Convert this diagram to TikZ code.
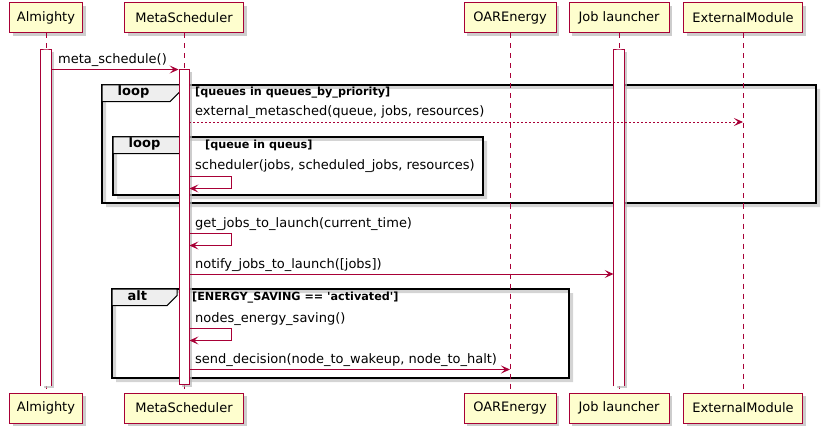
\documentclass[tikz,border=0pt]{standalone}
\usepackage{fontspec}
\setmainfont{DejaVu Sans}
\usepackage{tikz}
\usetikzlibrary{arrows.meta,positioning,shadows}
\definecolor{umlRed}{HTML}{A80036}
\definecolor{umlFill}{HTML}{FEFECE}
\definecolor{tabGray}{HTML}{EEEEEE}
\colorlet{shadeGray}{black!28}
\tikzset{
  part/.style={draw=umlRed, fill=umlFill, line width=1pt, minimum height=30pt, inner sep=0pt,
    font=\fontsize{13}{15}\selectfont,
    drop shadow={shadow xshift=3pt, shadow yshift=-3pt, fill=shadeGray, opacity=0.7}},
  life/.style={umlRed, line width=0.9pt, dash pattern=on 5pt off 5pt},
  actbar/.style={draw=umlRed, fill=white, line width=0.9pt, minimum width=10pt, inner sep=0pt, anchor=north,
    drop shadow={shadow xshift=2.5pt, shadow yshift=-2.5pt, fill=shadeGray, opacity=0.7}},
  openbar/.style={actbar, draw=none},
  msg/.style={umlRed, line width=0.9pt, -{Stealth[length=9pt, width=8pt, inset=4pt]}},
  asyncmsg/.style={msg, dash pattern=on 2pt off 2pt},
  lbl/.style={anchor=base west, inner sep=0pt, font=\fontsize{13}{15}\selectfont},
  cond/.style={anchor=base west, inner sep=0pt, font=\bfseries\fontsize{11.2}{13}\selectfont},
  frm/.style={draw=black, line width=1.5pt},
  tabbox/.style={fill=tabGray, draw=black, line width=1pt},
}

\begin{document}
\begin{tikzpicture}[x=1pt, y=-1pt]
  \useasboundingbox (0,0) rectangle (833,441);

  % combined fragments: loop / loop / alt
  \foreach \xa/\ya/\xb/\yb/\tx/\k in {102/85/816/203/180/loop, 113/137/483/195/189/loop, 112/289/569/378/177/alt}{
    \fill[black!17, even odd rule] (\xa+4,\ya+4) rectangle (\xb+4,\yb+4) (\xa,\ya) rectangle (\xb,\yb);
    \draw[frm] (\xa,\ya) rectangle (\xb,\yb);
    \filldraw[tabbox] (\xa,\ya) -- (\tx,\ya) -- (\tx,\ya+6.7) -- (\tx-10,\ya+16.7) -- (\xa,\ya+16.7) -- cycle;
    \node[anchor=base west, inner sep=0pt, font=\bfseries\fontsize{13}{15}\selectfont] at (\xa+15.5,\ya+11) {\k};
  }
  \node[cond] (c1) at (195,96) {[queues in queues\_by\_priority]};
  \node[cond] (c2) at (205,149) {[queue in queus]};
  \node[cond] (c3) at (192,300) {[ENERGY\_SAVING == \textquotesingle activated\textquotesingle]};

  % participants and lifelines
  \foreach \n/\x/\w/\t in {alm/46/73/Almighty, meta/184/119/MetaScheduler, oar/510/92/OAREnergy, job/619/100/Job launcher, ext/743/119/ExternalModule}{
    \node[part, minimum width=\w pt] (\n-t) at (\x,18) {\t};
    \node[part, minimum width=\w pt] (\n-b) at (\x,408) {\t};
    \draw[life] (\n-t) -- (\n-b);
  }

  % activations
  \node[openbar, minimum height=336.5pt] (alm-a) at (46,49) {};
  \draw[umlRed, line width=0.9pt] (alm-a.south west) |- (alm-a.north) -| (alm-a.south east);
  \node[openbar, minimum height=336.5pt] (job-a) at (619,49) {};
  \draw[umlRed, line width=0.9pt] (job-a.south west) |- (job-a.north) -| (job-a.south east);
  \node[actbar, minimum height=314.5pt] (meta-a) at (184,69.5) {};

  % messages
  \draw[msg] (alm-a.east |- 0,69.5) -- (meta-a.west |- 0,69.5);
  \node[lbl] (m1) at (58,63.5) {meta\_schedule()};
  \draw[asyncmsg] (meta-a.east |- 0,122) -- (ext-t.south |- 0,122);
  \node[lbl] (m2) at (195,116) {external\_metasched(queue, jobs, resources)};
  \draw[msg] (meta-a.east |- 0,176) -- ++(42,0) |- (meta-a.east |- 0,188.5);
  \node[lbl] (m3) at (195,170) {scheduler(jobs, scheduled\_jobs, resources)};
  \draw[msg] (meta-a.east |- 0,233) -- ++(42,0) |- (meta-a.east |- 0,245.5);
  \node[lbl] (m4) at (195,227) {get\_jobs\_to\_launch(current\_time)};
  \draw[msg] (meta-a.east |- 0,274) -- (job-a.west |- 0,274);
  \node[lbl] (m5) at (195,268) {notify\_jobs\_to\_launch([jobs])};
  \draw[msg] (meta-a.east |- 0,328) -- ++(42,0) |- (meta-a.east |- 0,340.5);
  \node[lbl] (m6) at (195,322) {nodes\_energy\_saving()};
  \draw[msg] (meta-a.east |- 0,369.5) -- (oar-t.south |- 0,369.5);
  \node[lbl] (m7) at (195,363.5) {send\_decision(node\_to\_wakeup, node\_to\_halt)};
\end{tikzpicture}
\end{document}
